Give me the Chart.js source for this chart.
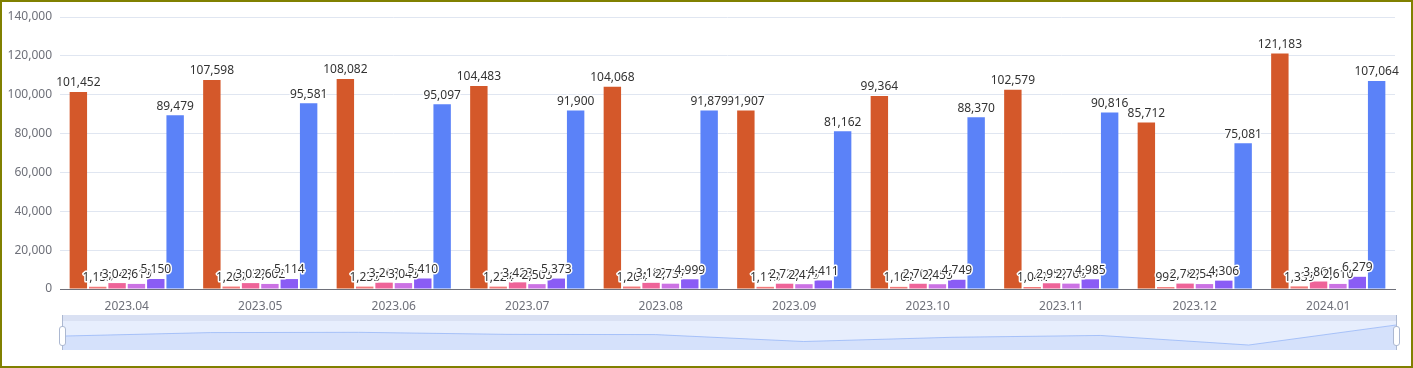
<!DOCTYPE html>
<html>
<head>
<meta charset="utf-8">
<script src="https://cdn.jsdelivr.net/npm/chart.js@4.4.1/dist/chart.umd.min.js"></script>
<style>
  html, body { margin: 0; padding: 0; background: #fff; }
  #frame { position: relative; width: 1413px; height: 368px; box-sizing: border-box; border: 2px solid #808000; overflow: hidden; }
  #mainChart { position: absolute; left: -2px; top: -2px; }
  #zoomBox { position: absolute; left: 60px; top: 313px; width: 1335px; height: 35px; background: #e7eefd; }
  #zoomBar { position: absolute; left: 0; top: 0; width: 100%; height: 6px; background: #dae1f3; }
  #shadowChart { position: absolute; left: 0; top: 6px; }
  .handle { position: absolute; top: 11px; width: 5px; height: 18px; background: #fff; border: 1px solid #acb8d1; border-radius: 3px; }
  .handleLine { position: absolute; top: 0; width: 1px; height: 35px; background: #acb8d1; }
</style>
</head>
<body>
<div id="frame">
  <canvas id="mainChart" width="1413" height="315"></canvas>
  <div id="zoomBox">
    <div id="zoomBar"></div>
    <canvas id="shadowChart" width="1335" height="29"></canvas>
    <div class="handleLine" style="left:0px"></div>
    <div class="handle" style="left:-3px"></div>
    <div class="handleLine" style="left:1334px"></div>
    <div class="handle" style="left:1331px"></div>
  </div>
</div>
<script>
const months = ['2023.04', '2023.05', '2023.06', '2023.07', '2023.08', '2023.09', '2023.10', '2023.11', '2023.12', '2024.01'];

const seriesA = [101452, 107598, 108082, 104483, 104068, 91907, 99364, 102579, 85712, 121183];
const seriesB = [1153, 1263, 1235, 1224, 1264, 1113, 1102, 1042, 993, 1339];
const seriesC = [3043, 3032, 3263, 3423, 3182, 2722, 2702, 2952, 2782, 3861];
const seriesD = [2619, 2602, 3045, 2503, 2737, 2479, 2455, 2766, 2541, 2610];
const seriesE = [5150, 5114, 5410, 5373, 4999, 4411, 4749, 4985, 4306, 6279];
const seriesF = [89479, 95581, 95097, 91900, 91879, 81162, 88370, 90816, 75081, 107064];

const yTicks = [0, 20000, 40000, 60000, 80000, 100000, 120000, 140000];

const colors = ['#d4582a', '#f27878', '#ee6499', '#cb72e4', '#8a5cf5', '#5b82f8'];

function fmt(v) {
    return v.toLocaleString('en-US');
}

// labels on top of every bar, white halo like the original
const barLabels = {
    id: 'barLabels',
    afterDatasetsDraw(chart) {
        const ctx = chart.ctx;
        ctx.save();
        ctx.font = '12px "Noto Sans", sans-serif';
        ctx.textAlign = 'center';
        ctx.textBaseline = 'bottom';
        ctx.lineJoin = 'round';
        chart.data.datasets.forEach((ds, i) => {
            const meta = chart.getDatasetMeta(i);
            meta.data.forEach((bar, j) => {
                const text = fmt(ds.data[j]);
                ctx.lineWidth = 3;
                ctx.strokeStyle = '#fff';
                ctx.strokeText(text, bar.x, bar.y - 3);
                ctx.fillStyle = '#333';
                ctx.fillText(text, bar.x, bar.y - 3);
            });
        });
        ctx.restore();
    }
};

const allSeries = [seriesA, seriesB, seriesC, seriesD, seriesE, seriesF];

new Chart(document.getElementById('mainChart'), {
    type: 'bar',
    data: {
        labels: months,
        datasets: allSeries.map((s, i) => ({
            data: s,
            backgroundColor: colors[i],
            borderWidth: 0,
            categoryPercentage: 0.87,
            barPercentage: 0.9
        }))
    },
    options: {
        responsive: false,
        animation: false,
        layout: { padding: { top: 17, right: 18, left: 0, bottom: 0 } },
        plugins: {
            legend: { display: false },
            tooltip: { enabled: false }
        },
        scales: {
            x: {
                grid: { display: false },
                border: { color: '#6e7079' },
                ticks: { color: '#6e7079', font: { size: 12, family: '"Noto Sans", sans-serif' }, padding: 2 },
                afterFit(scale) { scale.height = 26; }
            },
            y: {
                min: 0,
                max: 140000,
                afterBuildTicks(scale) { scale.ticks = yTicks.map(v => ({ value: v })); },
                grid: { color: '#e0e6f1', drawTicks: false },
                border: { display: false },
                ticks: {
                    color: '#6e7079',
                    font: { size: 12, family: '"Noto Sans", sans-serif' },
                    padding: 8,
                    callback: v => fmt(v)
                },
                afterFit(scale) { scale.width = 60; }
            }
        }
    },
    plugins: [barLabels]
});

// data shadow inside the zoom slider
new Chart(document.getElementById('shadowChart'), {
    type: 'line',
    data: {
        labels: months,
        datasets: [{
            data: seriesA,
            borderColor: 'rgba(143,176,247,0.7)',
            borderWidth: 1,
            backgroundColor: 'rgba(143,176,247,0.2)',
            fill: 'start',
            pointRadius: 0,
            tension: 0
        }]
    },
    options: {
        responsive: false,
        animation: false,
        layout: { padding: 0 },
        plugins: { legend: { display: false }, tooltip: { enabled: false } },
        scales: {
            x: { display: false, offset: false },
            y: { display: false, min: 77000, max: 128000 }
        }
    }
});
</script>
</body>
</html>
